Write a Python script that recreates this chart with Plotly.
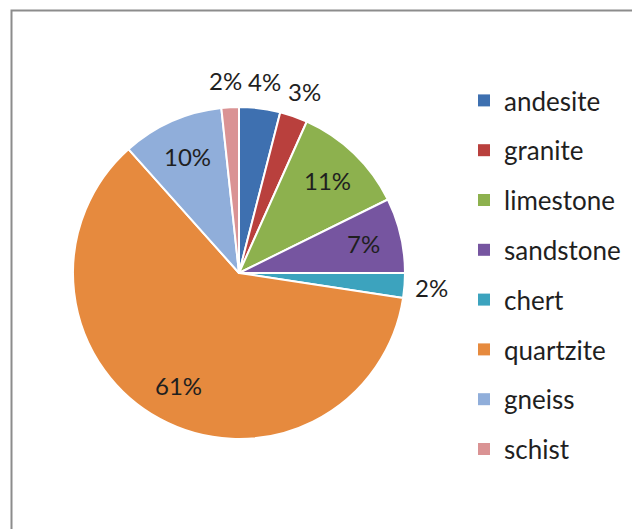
import math
import plotly.graph_objects as go

# ---- data ----
rocks = ["andesite", "granite", "limestone", "sandstone", "chert", "quartzite", "gneiss", "schist"]
shares = [4.0, 2.7, 11.0, 7.3, 2.4, 61.0, 9.9, 1.7]
colors = ["#3E70B0", "#B9403D", "#8DB14E", "#7655A0", "#3CA3BE", "#E68A3E", "#90AEDA", "#DA9394"]

W, H = 632, 529
CX, CY, R = 239, 273, 166  # pixel centre / radius of pie
FONT = "Lato"
TXT = "#1f1f1f"

fig = go.Figure()
fig.add_trace(go.Pie(
    labels=rocks, values=shares, sort=False, direction="clockwise", rotation=0,
    marker=dict(colors=colors, line=dict(color="white", width=2)),
    textinfo="none", hoverinfo="label+percent", showlegend=False,
    domain=dict(x=[(CX - R) / W, (CX + R) / W], y=[(H - CY - R) / H, (H - CY + R) / H]),
))

# legend via dummy traces so items can be spaced apart
for i, (name, c) in enumerate(zip(rocks, colors)):
    fig.add_trace(go.Scatter(
        x=[None], y=[None], mode="markers", name=name, legendgroup=f"g{i}",
        marker=dict(symbol="square", size=12, color=c),
    ))

# percentage labels placed from slice mid-angles
total = sum(shares)
cum = 0.0
pos = []
for v in shares:
    pct = v / total
    mid = (cum + pct / 2) * 2 * math.pi
    cum += pct
    inside = pct >= 0.05
    rf = 0.77 if inside else 1.16
    pos.append([CX + rf * R * math.sin(mid), CY - rf * R * math.cos(mid), inside, f"{round(pct * 100)}%"])

# simple collision avoidance for outside labels
outs = sorted([p for p in pos if not p[2]], key=lambda p: p[0])
for a, b in zip(outs, outs[1:]):
    if abs(a[1] - b[1]) < 22 and b[0] - a[0] < 40:
        d = (40 - (b[0] - a[0])) / 2
        a[0] -= d
        b[0] += d

ann = [dict(
    x=px / W, y=1 - py / H, xref="paper", yref="paper",
    text=t, showarrow=False,
    font=dict(family=FONT, size=24, color=TXT),
    xanchor="center", yanchor="middle",
) for px, py, _, t in pos]

fig.update_layout(
    width=W, height=H,
    margin=dict(l=0, r=0, t=0, b=0),
    paper_bgcolor="white", plot_bgcolor="white",
    xaxis=dict(visible=False), yaxis=dict(visible=False),
    annotations=ann,
    legend=dict(
        x=464 / W, y=1 - 77 / H, xanchor="left", yanchor="top",
        font=dict(family=FONT, size=26, color=TXT),
        tracegroupgap=13, itemwidth=30, bgcolor="rgba(0,0,0,0)",
    ),
    shapes=[dict(
        type="rect", xref="paper", yref="paper",
        x0=11.5 / W, x1=1.05, y0=-0.05, y1=1 - 10.5 / H,
        line=dict(color="#8C8C8C", width=2),
    )],
)

fig.write_html("out.html")
